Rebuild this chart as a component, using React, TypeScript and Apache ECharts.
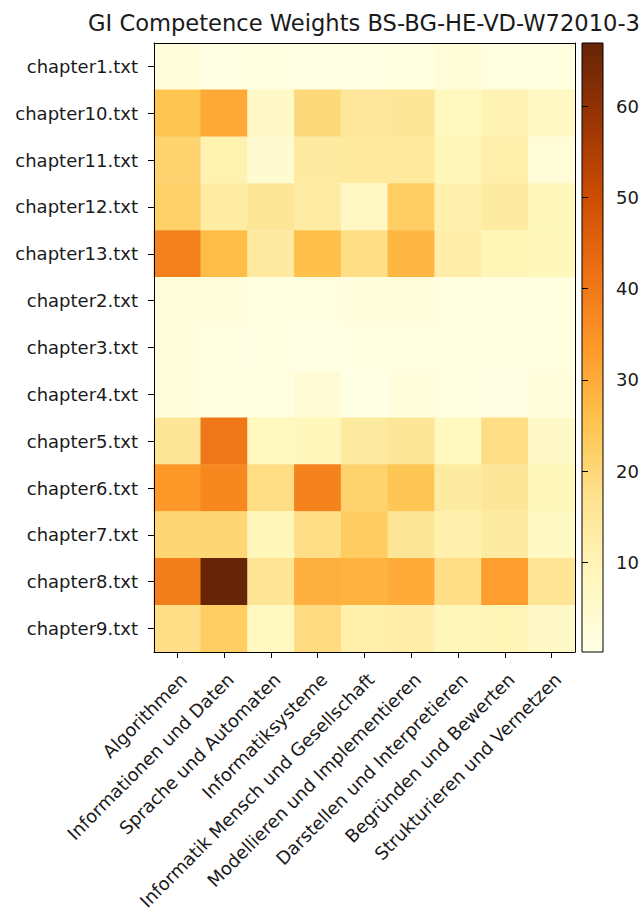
import React, { useEffect, useRef } from "react";
import * as echarts from "echarts";

// Competence areas (columns)
const competences = [
  "Algorithmen",
  "Informationen und Daten",
  "Sprache und Automaten",
  "Informatiksysteme",
  "Informatik Mensch und Gesellschaft",
  "Modellieren und Implementieren",
  "Darstellen und Interpretieren",
  "Begründen und Bewerten",
  "Strukturieren und Vernetzen",
];

// Chapters (rows, top to bottom)
const chapters = [
  "chapter1.txt",
  "chapter10.txt",
  "chapter11.txt",
  "chapter12.txt",
  "chapter13.txt",
  "chapter2.txt",
  "chapter3.txt",
  "chapter4.txt",
  "chapter5.txt",
  "chapter6.txt",
  "chapter7.txt",
  "chapter8.txt",
  "chapter9.txt",
];

// Weights per chapter, one value per competence area
const chapter1 = [2, 0.5, 1.5, 0.5, 0.5, 1.5, 3, 1, 1.5];
const chapter10 = [25, 30.5, 6, 19.5, 15, 15.5, 8, 10, 7];
const chapter11 = [21, 11, 4.5, 14, 14.5, 14.5, 9, 12, 3];
const chapter12 = [22, 13, 15.5, 13, 7, 22.5, 11.5, 13.5, 9];
const chapter13 = [38.5, 26.5, 14, 26, 18, 28, 12.5, 9.5, 8.5];
const chapter2 = [2.5, 2, 1.5, 1.5, 2, 2, 1.5, 1.5, 1.5];
const chapter3 = [2, 1, 1, 0.5, 1, 1.5, 1.5, 1.5, 1.5];
const chapter4 = [2, 1.5, 1.5, 3.5, 0.2, 2, 1.5, 0.8, 2];
const chapter5 = [15.5, 40.5, 8, 8.7, 13.5, 15.5, 8, 18.5, 6];
const chapter6 = [33.5, 37, 18.5, 38, 21.5, 24.5, 13.5, 15.5, 9];
const chapter7 = [20.5, 20.5, 9, 18, 23, 15.5, 11.5, 13.5, 6.5];
const chapter8 = [39, 66.9, 16, 29, 28.5, 30, 18, 32.5, 16];
const chapter9 = [18, 22.5, 7.5, 19, 12, 12.5, 9, 9.5, 6];

const rows = [
  chapter1, chapter10, chapter11, chapter12, chapter13, chapter2, chapter3,
  chapter4, chapter5, chapter6, chapter7, chapter8, chapter9,
];

// Colour bar
const colorbarTicks = [10, 20, 30, 40, 50, 60];
const colorMin = 0.2;
const colorMax = 66.9;

// YlOrBr colour map
const ylOrBr = [
  "#ffffe5", "#fff7bc", "#fee391", "#fec44f", "#fe9929",
  "#ec7014", "#cc4c02", "#993404", "#662506",
];

const FONT = "DejaVu Sans";
const TEXT = "#1a1a1a";

export default function App() {
  const ref = useRef<HTMLDivElement>(null);

  useEffect(() => {
    if (!ref.current) return;
    const chart = echarts.init(ref.current, null, { renderer: "svg" });

    const cells: number[][] = [];
    rows.forEach((row, yi) => row.forEach((v, xi) => cells.push([xi, yi, v])));

    const gradientStops = ylOrBr.map((c, i) => ({ offset: i / (ylOrBr.length - 1), color: c }));

    chart.setOption({
      animation: false,
      backgroundColor: "#ffffff",
      textStyle: { fontFamily: FONT },
      graphic: [
        {
          type: "text",
          x: 364,
          y: 23,
          style: {
            text: "GI Competence Weights BS-BG-HE-VD-W72010-3",
            fontFamily: FONT,
            fontSize: 22.6,
            fill: TEXT,
            textAlign: "center",
            textVerticalAlign: "middle",
          },
        },
      ],
      grid: [
        { left: 154, top: 43, width: 421, height: 609, containLabel: false },
        { left: 582, top: 43, width: 21, height: 609, containLabel: false },
      ],
      visualMap: {
        type: "continuous",
        show: false,
        min: colorMin,
        max: colorMax,
        seriesIndex: 0,
        inRange: { color: ylOrBr },
      },
      xAxis: [
        {
          type: "category",
          gridIndex: 0,
          data: competences,
          position: "bottom",
          z: 10,
          axisLine: { show: true, lineStyle: { color: "#000", width: 1 } },
          axisTick: { show: true, alignWithLabel: true, length: 6, lineStyle: { color: "#000" } },
          axisLabel: {
            interval: 0,
            rotate: 45,
            fontSize: 18,
            fontFamily: FONT,
            color: TEXT,
            margin: 18,
            verticalAlign: "top",
          },
          splitLine: { show: false },
          splitArea: { show: false },
        },
        {
          type: "value",
          gridIndex: 1,
          min: 0,
          max: 1,
          show: false,
        },
        {
          type: "value",
          gridIndex: 0,
          position: "top",
          min: 0,
          max: 1,
          z: 10,
          axisLine: { show: true, onZero: false, lineStyle: { color: "#000", width: 1 } },
          axisTick: { show: false },
          axisLabel: { show: false },
          splitLine: { show: false },
        },
      ],
      yAxis: [
        {
          type: "category",
          gridIndex: 0,
          data: chapters,
          inverse: true,
          z: 10,
          axisLine: { show: true, lineStyle: { color: "#000", width: 1 } },
          axisTick: { show: true, alignWithLabel: true, length: 6, lineStyle: { color: "#000" } },
          axisLabel: {
            interval: 0,
            fontSize: 18,
            fontFamily: FONT,
            color: TEXT,
            margin: 16,
          },
          splitLine: { show: false },
          splitArea: { show: false },
        },
        {
          type: "value",
          gridIndex: 1,
          position: "right",
          min: colorMin,
          max: colorMax,
          z: 10,
          axisLine: { show: false },
          axisTick: {
            show: true,
            length: 6,
            lineStyle: { color: "#000" },
            customValues: colorbarTicks,
          },
          axisLabel: {
            fontSize: 18,
            fontFamily: FONT,
            color: TEXT,
            margin: 13,
            customValues: colorbarTicks,
          },
          splitLine: { show: false },
        },
        {
          type: "value",
          gridIndex: 0,
          position: "right",
          min: 0,
          max: 1,
          z: 10,
          axisLine: { show: true, onZero: false, lineStyle: { color: "#000", width: 1 } },
          axisTick: { show: false },
          axisLabel: { show: false },
          splitLine: { show: false },
        },
      ],
      series: [
        {
          type: "heatmap",
          xAxisIndex: 0,
          yAxisIndex: 0,
          data: cells,
          itemStyle: { borderWidth: 0 },
          emphasis: { disabled: true },
        },
        {
          type: "custom",
          xAxisIndex: 1,
          yAxisIndex: 1,
          data: [[0, colorMin]],
          silent: true,
          renderItem: (_params: any, api: any) => {
            const top = api.coord([0, colorMax]);
            const bottom = api.coord([1, colorMin]);
            return {
              type: "rect",
              shape: {
                x: top[0],
                y: top[1],
                width: bottom[0] - top[0],
                height: bottom[1] - top[1],
              },
              style: {
                fill: new echarts.graphic.LinearGradient(0, 1, 0, 0, gradientStops),
                stroke: "#000",
                lineWidth: 1,
              },
            };
          },
        },
      ],
    });

    return () => chart.dispose();
  }, []);

  return (
    <div
      ref={ref}
      style={{ position: "absolute", left: 0, top: 0, width: 643, height: 913 }}
    />
  );
}
